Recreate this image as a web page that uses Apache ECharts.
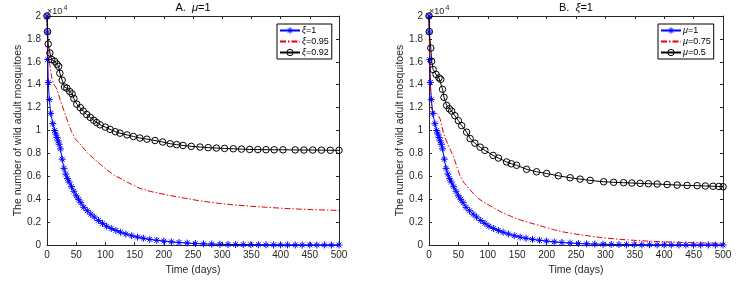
<!DOCTYPE html>
<html><head><meta charset="utf-8">
<script src="https://cdn.jsdelivr.net/npm/echarts@6/dist/echarts.min.js"></script>
<style>html,body{margin:0;padding:0;background:#fff}#c{width:745px;height:281px}</style>
</head><body><div id="c"></div>
<script>
// ---- data (values in units of 10^4) ----
const blueT = [0,0.6,1.3,2.2,4,6.5,10,13,15,17,19,21,23,26,29,32,35,38,42,46,50,54,58,63,69,75,81,88,95,102,110,118,126,135,145,155,165,176,188,200,213,226,240,254,268,282,296,310,323,336,349,362,375,388,400,412,425,437,450,462,475,487,500];
const blueV = [2.0,1.86,1.62,1.42,1.27,1.15,1.06,1.0,0.97,0.94,0.91,0.88,0.84,0.75,0.67,0.62,0.58,0.55,0.51,0.47,0.43,0.40,0.37,0.33,0.30,0.27,0.245,0.215,0.19,0.165,0.145,0.128,0.112,0.097,0.082,0.07,0.06,0.05,0.042,0.035,0.028,0.023,0.018,0.014,0.011,0.009,0.007,0.006,0.005,0.004,0.0035,0.003,0.0025,0.002,0.002,0.0015,0.0015,0.001,0.001,0.001,0.001,0.001,0.001];

const redAT = [0,1,2,3,5,7,9,12,16,20,25,30,36,42,48,55,62,70,80,90,102,115,131,145,159,180,205,230,262,290,319,350,376,405,433,465,500];
const redAV = [2.0,1.75,1.62,1.60,1.57,1.50,1.44,1.40,1.37,1.31,1.23,1.16,1.07,0.99,0.93,0.89,0.85,0.80,0.755,0.71,0.66,0.61,0.567,0.53,0.495,0.465,0.438,0.415,0.386,0.367,0.351,0.339,0.33,0.321,0.314,0.308,0.303];

const blkAT = [0,1,2,5,8,13,17,20,22,26,30,34,39,43,46,51,57,62,68,74,80,85,91,100,108,117,125,137,148,159,171,185,198,211,222,233,247,262,276,290,304,319,333,347,361,375,389,404,425,440,455,470,485,500];
const blkAV = [2.0,1.864,1.755,1.677,1.62,1.605,1.58,1.56,1.50,1.44,1.38,1.37,1.34,1.32,1.28,1.23,1.20,1.17,1.14,1.115,1.09,1.07,1.05,1.03,1.01,0.99,0.977,0.962,0.948,0.935,0.925,0.913,0.90,0.885,0.877,0.87,0.862,0.856,0.851,0.847,0.844,0.841,0.838,0.835,0.834,0.833,0.832,0.832,0.831,0.83,0.83,0.829,0.828,0.827];

const redBT = [0,1,2,3,5,8,12,16,19,22,25,28,33,41,47,53,60,70,83,98,112,126,140,155,170,183,198,212,230,251,275,297,325,354,380,410,440,470,500];
const redBV = [2.0,1.7,1.45,1.3,1.18,1.16,1.155,1.13,1.10,1.03,0.97,0.93,0.87,0.78,0.69,0.60,0.54,0.48,0.41,0.36,0.32,0.28,0.25,0.22,0.197,0.178,0.155,0.135,0.113,0.095,0.078,0.063,0.05,0.04,0.033,0.027,0.022,0.018,0.015];

const blkBT = [0,0.5,3,4.5,7,12,17,20,23,25.5,30,34.5,38.6,44,50,55.6,64,70,78,87,95,109,118,132,140,149,166,183,200,220,240,257,274,297,314,331,345,359,373,388,405,422,439,456,470,483,493,500];
const blkBV = [2.0,1.864,1.72,1.605,1.533,1.49,1.46,1.447,1.36,1.29,1.22,1.19,1.17,1.13,1.086,1.043,0.986,0.93,0.89,0.855,0.827,0.783,0.76,0.726,0.71,0.697,0.662,0.64,0.625,0.605,0.588,0.576,0.565,0.553,0.548,0.545,0.542,0.539,0.536,0.533,0.529,0.524,0.521,0.519,0.516,0.514,0.512,0.51];

const xRange = [0, 500], xStep = 50;
const yRange = [0, 2], yStep = 0.2;
const panelTitles = [['A.  ', 'μ', '=1'], ['B.  ', 'ξ', '=1']];
const legendLabels = [
  [['ξ','=1'],['ξ','=0.95'],['ξ','=0.92']],
  [['μ','=1'],['μ','=0.75'],['μ','=0.5']]
];
const xName = 'Time (days)';
const yName = 'The number of wild adult mosquitoes';

// ---- chart ----
const FONT = 'Liberation Sans, Arial, Helvetica, sans-serif';
const AX = '#262626';
const BLUE = '#0000ff', RED = '#e8000b', BLK = '#000000';
const grids = [
  {left: 47, top: 16, width: 292, height: 231},
  {left: 429, top: 16, width: 294, height: 231}
];
const pair = (t, v) => t.map((x, i) => [x, v[i]]);
const star = 'path://M5 0L5 10M0 5L10 5M1.6 1.6L8.4 8.4M1.6 8.4L8.4 1.6';

function xAxes(g) {
  const base = {type:'value', gridIndex:g, min:xRange[0], max:xRange[1], interval:xStep,
    axisLine:{onZero:false, lineStyle:{color:AX, width:1}},
    axisTick:{inside:true, length:3, lineStyle:{color:AX}},
    splitLine:{show:false}};
  return [
    Object.assign({}, base, {position:'bottom',
      axisLabel:{color:AX, fontSize:10, margin:5, fontFamily:FONT},
      name:xName, nameLocation:'middle', nameGap:18,
      nameTextStyle:{color:AX, fontSize:10.5, fontFamily:FONT}}),
    Object.assign({}, base, {position:'top', axisLabel:{show:false}})
  ];
}
function yAxes(g) {
  const base = {type:'value', gridIndex:g, min:yRange[0], max:yRange[1], interval:yStep,
    axisLine:{onZero:false, lineStyle:{color:AX, width:1}},
    axisTick:{inside:true, length:3, lineStyle:{color:AX}},
    splitLine:{show:false}};
  return [
    Object.assign({}, base, {position:'left',
      axisLabel:{color:AX, fontSize:10, margin:6, fontFamily:FONT,
        formatter: v => String(+v.toFixed(1))},
      name:yName, nameLocation:'middle', nameGap:21, nameRotate:90,
      nameTextStyle:{color:AX, fontSize:10.5, fontFamily:FONT}}),
    Object.assign({}, base, {position:'right', axisLabel:{show:false}})
  ];
}
const xs = [...xAxes(0), ...xAxes(1)];
const ys = [...yAxes(0), ...yAxes(1)];

function blueSeries(name, xi, yi) {
  return {name, type:'line', xAxisIndex:xi, yAxisIndex:yi, data:pair(blueT, blueV),
    symbol:star, symbolSize:7, showAllSymbol:true, clip:false,
    itemStyle:{color:BLUE, borderColor:BLUE, borderWidth:1},
    lineStyle:{color:BLUE, width:1}};
}
function redSeries(name, xi, yi, t, v) {
  return {name, type:'line', xAxisIndex:xi, yAxisIndex:yi, data:pair(t, v),
    symbol:'none', clip:false,
    itemStyle:{color:RED},
    lineStyle:{color:RED, width:1, type:[6,2,1.5,2]}};
}
function blkSeries(name, xi, yi, t, v) {
  return {name, type:'line', xAxisIndex:xi, yAxisIndex:yi, data:pair(t, v),
    symbol:'circle', symbolSize:6.5, showAllSymbol:true, clip:false,
    itemStyle:{color:'rgba(0,0,0,0)', borderColor:BLK, borderWidth:1},
    lineStyle:{color:BLK, width:1}};
}
const series = [
  blueSeries('a0', 0, 0), redSeries('a1', 0, 0, redAT, redAV), blkSeries('a2', 0, 0, blkAT, blkAV),
  blueSeries('b0', 2, 2), redSeries('b1', 2, 2, redBT, redBV), blkSeries('b2', 2, 2, blkBT, blkBV)
];

const richLeg = {g:{fontStyle:'italic', fontSize:9, fontFamily:FONT, color:'#000'},
                 n:{fontSize:9, fontFamily:FONT, color:'#000'}};
function legend(p, left, pre) {
  return {
    data:[
      {name:pre + '0', itemStyle:{color:'rgba(0,0,0,0)', borderColor:BLUE, borderWidth:1}},
      {name:pre + '1', itemStyle:{color:'rgba(0,0,0,0)', borderColor:'rgba(0,0,0,0)', borderWidth:0, opacity:0}},
      {name:pre + '2', itemStyle:{color:'rgba(0,0,0,0)', borderColor:BLK, borderWidth:1}}
    ],
    left, top:24, orient:'vertical', itemWidth:20, itemHeight:8, itemGap:2,
    padding:[2,3,2,2], borderColor:'#000', borderWidth:1, backgroundColor:'#fff',
    textStyle:{fontSize:9, fontFamily:FONT, color:'#000', rich:richLeg, padding:[0,0,0,-3]},
    formatter: name => { const l = legendLabels[p][+name[1]]; return '{g|' + l[0] + '}{n|' + l[1] + '}'; }};
}

const graphics = [];
grids.forEach((g, i) => {
  const pt = panelTitles[i];
  graphics.push({type:'text', x:g.left + g.width/2, y:8, style:{
    text:'{n|' + pt[0] + '}{g|' + pt[1] + '}{n|' + pt[2] + '}', textAlign:'center', textVerticalAlign:'middle',
    rich:{n:{fontSize:11, fontFamily:FONT, fill:'#000'}, g:{fontSize:11, fontStyle:'italic', fontFamily:FONT, fill:'#000'}}}});
  graphics.push({type:'text', x:g.left, y:12, style:{text:'×10', font:'9px ' + FONT, fill:AX, textVerticalAlign:'middle'}});
  graphics.push({type:'text', x:g.left + 16.5, y:8.5, style:{text:'4', font:'7px ' + FONT, fill:AX, textVerticalAlign:'middle'}});
});

const chart = echarts.init(document.getElementById('c'), null, {renderer:'canvas'});
chart.setOption({
  animation:false,
  backgroundColor:'#fff',
  grid: grids,
  xAxis: xs,
  yAxis: ys,
  series,
  legend: [legend(0, 277, 'a'), legend(1, 658, 'b')],
  graphic: graphics
});
</script>
</body></html>
